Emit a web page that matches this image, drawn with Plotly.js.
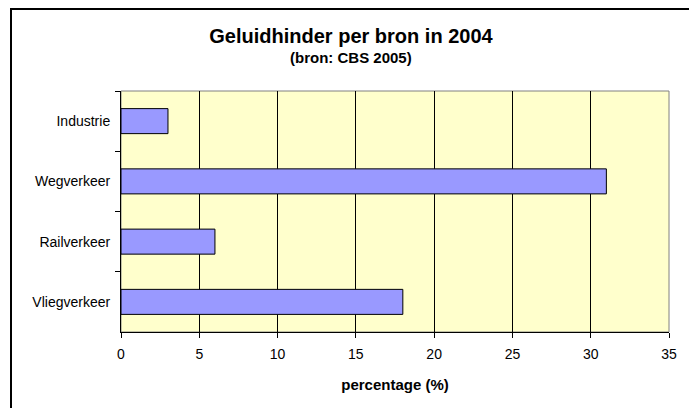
<!DOCTYPE html>
<html>
<head>
<meta charset="utf-8">
<script src="https://cdn.plot.ly/plotly-3.0.1.min.js"></script>
<style>
html, body { margin: 0; padding: 0; background: #fff; }
#chart { width: 689px; height: 408px; }
</style>
</head>
<body>
<div id="chart"></div>
<script>
const categories = ['Industrie', 'Wegverkeer', 'Railverkeer', 'Vliegverkeer'];
const percentages = [3, 31, 6, 18];
const xTickValues = [0, 5, 10, 15, 20, 25, 30, 35];
const chartTitle = 'Geluidhinder per bron in 2004';
const chartSubtitle = '(bron: CBS 2005)';
const xAxisTitle = 'percentage (%)';

const FONT = '"Liberation Sans", Arial, sans-serif';

const trace = {
  type: 'bar',
  orientation: 'h',
  x: percentages,
  y: categories,
  marker: { color: '#9999FF', line: { color: '#000000', width: 1 } },
  hoverinfo: 'none'
};

const layout = {
  width: 689,
  height: 408,
  margin: { l: 121, r: 20, t: 91, b: 76, pad: 0 },
  paper_bgcolor: '#FFFFFF',
  plot_bgcolor: '#FFFFCC',
  showlegend: false,
  bargap: 0.585,
  font: { family: FONT, size: 14, color: '#000000' },
  title: {
    text: chartTitle,
    font: { family: FONT, size: 20, weight: 'bold', color: '#000000' },
    xref: 'paper', x: 0.4197, xanchor: 'center',
    yref: 'container', y: 1 - 36 / 408, yanchor: 'middle'
  },
  annotations: [{
    text: chartSubtitle,
    showarrow: false,
    font: { family: FONT, size: 15, weight: 'bold', color: '#000000' },
    xref: 'paper', x: 0.4197, xanchor: 'center',
    yref: 'paper', y: (332 - 57) / 241, yanchor: 'middle'
  }],
  xaxis: {
    range: [0, 35],
    tickvals: xTickValues,
    ticks: 'outside', ticklen: 5, tickcolor: '#000000', tickwidth: 1,
    showline: true, linecolor: '#000000', linewidth: 1,
    showgrid: true, gridcolor: '#000000', gridwidth: 1,
    zeroline: false,
    tickfont: { family: FONT, size: 14, color: '#000000' },
    ticklabelstandoff: 4,
    title: { text: xAxisTitle, font: { family: FONT, size: 15, weight: 'bold', color: '#000000' }, standoff: 18 },
    fixedrange: true
  },
  yaxis: {
    type: 'category',
    categoryorder: 'array',
    categoryarray: categories,
    autorange: 'reversed',
    tickson: 'boundaries',
    ticks: 'outside', ticklen: 5, tickcolor: '#000000', tickwidth: 1,
    showline: true, linecolor: '#000000', linewidth: 1,
    showgrid: false, zeroline: false,
    tickfont: { family: FONT, size: 14, color: '#000000' },
    ticklabelstandoff: 7,
    fixedrange: true
  },
  shapes: [
    {
      type: 'rect', xref: 'paper', yref: 'paper',
      x0: 0, x1: 1, y0: 0, y1: 1,
      line: { color: '#808080', width: 1 }, layer: 'below'
    },
    {
      type: 'rect', xref: 'paper', yref: 'paper',
      x0: (11 - 121) / 548, x1: 1.2, y0: -0.6, y1: (332 - 9) / 241,
      line: { color: '#000000', width: 2 }, fillcolor: 'rgba(0,0,0,0)', layer: 'below'
    }
  ]
};

Plotly.newPlot('chart', [trace], layout, { displayModeBar: false, staticPlot: true });
</script>
</body>
</html>
